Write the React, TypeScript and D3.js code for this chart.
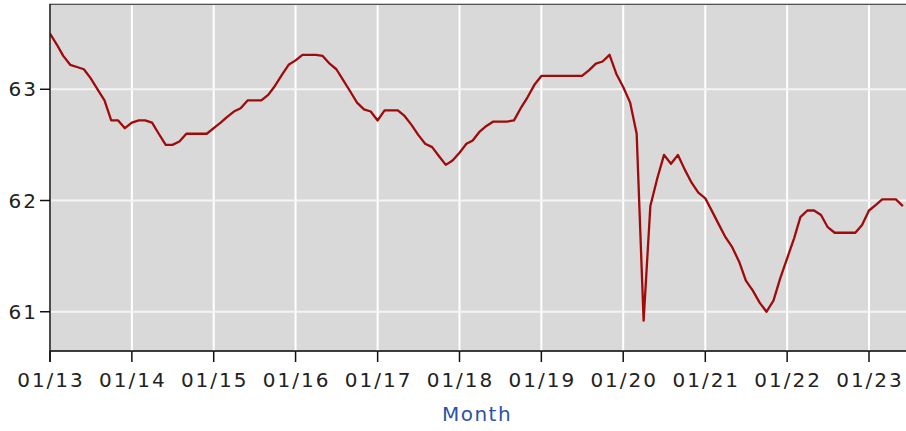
import React from "react";
import * as d3 from "d3";

// monthly values, Jan 2013 .. Jun 2023
const v2013 = [63.5, 63.4, 63.3, 63.22, 63.2, 63.18, 63.1, 63.0, 62.9, 62.72, 62.72, 62.65];
const v2014 = [62.7, 62.72, 62.72, 62.7, 62.6, 62.5, 62.5, 62.53, 62.6, 62.6, 62.6, 62.6];
const v2015 = [62.65, 62.7, 62.75, 62.8, 62.83, 62.9, 62.9, 62.9, 62.95, 63.03, 63.13, 63.22];
const v2016 = [63.26, 63.31, 63.31, 63.31, 63.3, 63.23, 63.18, 63.08, 62.98, 62.88, 62.82, 62.8];
const v2017 = [62.72, 62.81, 62.81, 62.81, 62.76, 62.68, 62.59, 62.51, 62.48, 62.4, 62.32, 62.36];
const v2018 = [62.43, 62.51, 62.54, 62.62, 62.67, 62.71, 62.71, 62.71, 62.72, 62.83, 62.93, 63.04];
const v2019 = [63.12, 63.12, 63.12, 63.12, 63.12, 63.12, 63.12, 63.17, 63.23, 63.25, 63.31, 63.14];
const v2020 = [63.02, 62.88, 62.6, 60.92, 61.95, 62.2, 62.41, 62.33, 62.41, 62.28, 62.16, 62.07];
const v2021 = [62.02, 61.9, 61.79, 61.67, 61.58, 61.45, 61.28, 61.19, 61.08, 61.0, 61.1, 61.3];
const v2022 = [61.48, 61.66, 61.85, 61.91, 61.91, 61.87, 61.76, 61.71, 61.71, 61.71, 61.71, 61.78];
const v2023 = [61.91, 61.96, 62.01, 62.01, 62.01, 61.95];

const values = [
  ...v2013, ...v2014, ...v2015, ...v2016, ...v2017, ...v2018,
  ...v2019, ...v2020, ...v2021, ...v2022, ...v2023,
];

const xTickLabels = ["01/13", "01/14", "01/15", "01/16", "01/17", "01/18", "01/19", "01/20", "01/21", "01/22", "01/23"];
const yTicks = [61, 62, 63];

const W = 906;
const H = 431;
const plot = { left: 50, right: 906, top: 4.3, bottom: 351 };

export default function App() {
  const data = values.map((v, i) => ({ date: new Date(2013, i, 1), v }));

  const x = d3
    .scaleTime()
    .domain([new Date(2013, 0, 1), new Date(2023, 5, 15)])
    .range([plot.left, plot.right]);

  const y = d3.scaleLinear().domain([60.647, 63.764]).range([plot.bottom, plot.top]);

  const xTicks = d3.timeYear.range(new Date(2013, 0, 1), new Date(2023, 1, 1));

  const line = d3
    .line<{ date: Date; v: number }>()
    .x((d) => x(d.date))
    .y((d) => y(d.v));

  const font = "'DejaVu Sans', Verdana, sans-serif";

  return (
    <div style={{ position: "absolute", left: 0, top: 0 }}>
      <svg width={W} height={H} style={{ display: "block", background: "#fff" }}>
        <defs>
          <clipPath id="plotclip">
            <rect x={plot.left} y={plot.top} width={plot.right - plot.left} height={plot.bottom - plot.top} />
          </clipPath>
        </defs>
        <rect
          x={plot.left}
          y={plot.top}
          width={plot.right - plot.left + 2}
          height={plot.bottom - plot.top}
          fill="#d9d9d9"
          stroke="#444"
          strokeWidth={1.2}
        />
        {/* grid */}
        {xTicks.map((t, i) => (
          <line key={"gx" + i} x1={x(t)} x2={x(t)} y1={plot.top + 1} y2={plot.bottom} stroke="#fff" strokeWidth={2} />
        ))}
        {yTicks.map((t) => (
          <line key={"gy" + t} x1={plot.left} x2={plot.right} y1={y(t)} y2={y(t)} stroke="#f4f4f4" strokeWidth={2} />
        ))}
        <path d={line(data) || ""} fill="none" stroke="#a00a0a" strokeWidth={2.3} strokeLinejoin="round" clipPath="url(#plotclip)" />
        {/* axes */}
        <line x1={plot.left} x2={plot.left} y1={plot.top} y2={plot.bottom + 11} stroke="#111" strokeWidth={1.5} />
        <line x1={plot.left} x2={plot.right} y1={plot.bottom} y2={plot.bottom} stroke="#222" strokeWidth={1.5} />
        {xTicks.map((t, i) => (
          <g key={"tx" + i}>
            <line x1={x(t)} x2={x(t)} y1={plot.bottom} y2={plot.bottom + 11} stroke="#111" strokeWidth={1.5} />
            <text
              x={x(t) + 1}
              y={387}
              textAnchor="middle"
              fontFamily={font}
              fontSize={20}
              letterSpacing={2}
              fill="#222"
            >
              {xTickLabels[i]}
            </text>
          </g>
        ))}
        {yTicks.map((t) => (
          <g key={"ty" + t}>
            <line x1={plot.left - 10} x2={plot.left} y1={y(t)} y2={y(t)} stroke="#111" strokeWidth={1.5} />
            <text
              x={plot.left - 12}
              y={y(t) + 7}
              textAnchor="end"
              fontFamily={font}
              fontSize={20}
              letterSpacing={2}
              fill="#222"
            >
              {t}
            </text>
          </g>
        ))}
        <text x={477} y={421} textAnchor="middle" fontFamily={font} fontSize={20} letterSpacing={1.5} fill="#2a52a8">
          Month
        </text>
      </svg>
    </div>
  );
}
